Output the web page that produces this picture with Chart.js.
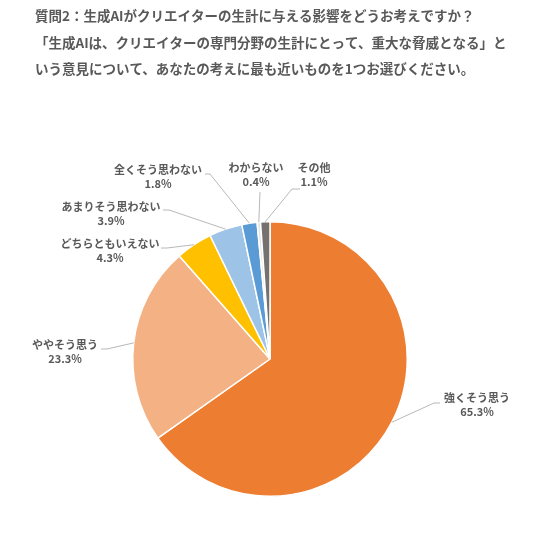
<!DOCTYPE html>
<html>
<head>
<meta charset="utf-8">
<script src="https://cdn.jsdelivr.net/npm/chart.js@4"></script>
<style>
	body { margin: 0; background: #fff; }
	canvas { display: block; }
</style>
</head>
<body>
<canvas id="chart1" width="544" height="557"></canvas>
<script>
// data
var titleLines = [
	'質問2：生成AIがクリエイターの生計に与える影響をどうお考えですか？',
	'「生成AIは、クリエイターの専門分野の生計にとって、重大な脅威となる」と',
	'いう意見について、あなたの考えに最も近いものを1つお選びください。'
];
var categories = ['強くそう思う', 'ややそう思う', 'どちらともいえない', 'あまりそう思わない', '全くそう思わない', 'わからない', 'その他'];
var values = [65.3, 23.3, 4.3, 3.9, 1.8, 0.4, 1.1];
var colors = ['#ED7D31', '#F4B183', '#FFC000', '#9DC3E6', '#5B9BD5', '#E7E6E6', '#767171'];

// label placement, relative to pie centre: label centre (lx, ly of name line), anchor (ax, ay), elbow (ex, ey)
var labelLayout = [
	{ lx: 207, ly: 39, ax: 170, ay: 44, ex: 164, ey: 44 },
	{ lx: -205, ly: -14, ax: -169, ay: -10, ex: -163, ey: -10 },
	{ lx: -160, ly: -115, ax: -109, ay: -111, ex: -103, ey: -111 },
	{ lx: -159, ly: -152, ax: -107, ay: -149, ex: -101, ey: -149 },
	{ lx: -112, ly: -189, ax: -65, ay: -185, ex: -60, ey: -185 },
	{ lx: -14, ly: -191, ax: -10, ay: -167, ex: -10, ey: -167 },
	{ lx: 44, ly: -191, ax: 30, ay: -170, ex: 22, ey: -170 }
];

var textColor = '#595959';
var fontFamily = '"Noto Sans CJK JP", "Noto Sans", sans-serif';

var titlePlugin = {
	id: 'titleText',
	afterDraw: function(chart) {
		var ctx = chart.ctx;
		ctx.save();
		ctx.fillStyle = textColor;
		ctx.font = 'bold 13.5px ' + fontFamily;
		ctx.textAlign = 'left';
		ctx.textBaseline = 'middle';
		var ys = [16, 43, 69];
		titleLines.forEach(function(line, i) {
			ctx.fillText(line, 35, ys[i]);
		});
		ctx.restore();
	}
};

var labelPlugin = {
	id: 'sliceLabels',
	afterDatasetsDraw: function(chart) {
		var ctx = chart.ctx;
		var meta = chart.getDatasetMeta(0);
		ctx.save();
		meta.data.forEach(function(arc, i) {
			var p = arc.getProps(['x', 'y', 'startAngle', 'endAngle', 'outerRadius'], true);
			var mid = (p.startAngle + p.endAngle) / 2;
			var px = p.x + Math.cos(mid) * p.outerRadius;
			var py = p.y + Math.sin(mid) * p.outerRadius;
			var L = labelLayout[i];

			ctx.strokeStyle = '#A6A6A6';
			ctx.lineWidth = 0.8;
			ctx.beginPath();
			ctx.moveTo(px, py);
			ctx.lineTo(p.x + L.ex, p.y + L.ey);
			ctx.lineTo(p.x + L.ax, p.y + L.ay);
			ctx.stroke();

			ctx.fillStyle = textColor;
			ctx.font = 'bold 11px ' + fontFamily;
			ctx.textAlign = 'center';
			ctx.textBaseline = 'middle';
			ctx.fillText(categories[i], p.x + L.lx, p.y + L.ly);
			ctx.fillText(values[i].toFixed(1) + '%', p.x + L.lx, p.y + L.ly + 14);
		});
		ctx.restore();
	}
};

var ctx = document.getElementById('chart1').getContext('2d');
var chart1 = new Chart(ctx, {
	type: 'pie',
	data: {
		labels: categories,
		datasets: [{
			data: values,
			backgroundColor: colors,
			borderColor: '#ffffff',
			borderWidth: 1.5
		}]
	},
	options: {
		responsive: false,
		animation: false,
		layout: {
			padding: { left: 132, right: 136, top: 221, bottom: 60 }
		},
		plugins: {
			legend: { display: false },
			tooltip: { enabled: false },
			title: { display: false }
		}
	},
	plugins: [titlePlugin, labelPlugin]
});
</script>
</body>
</html>
